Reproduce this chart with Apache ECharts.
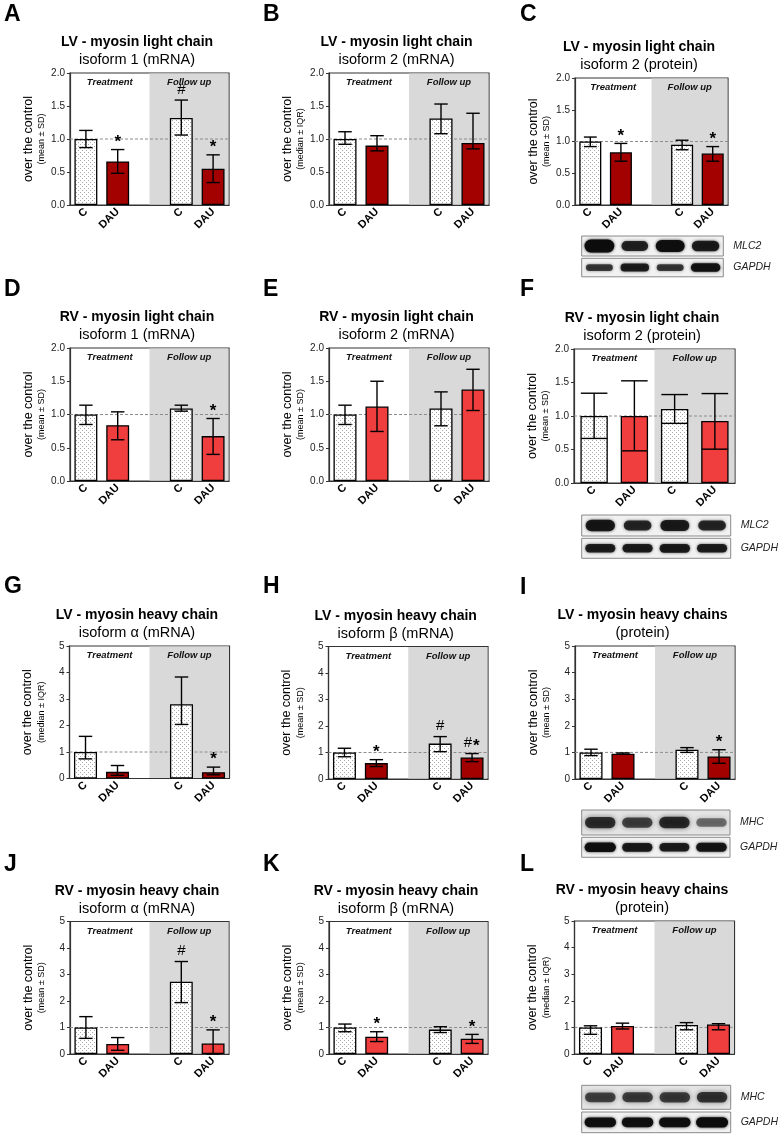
<!DOCTYPE html>
<html><head><meta charset="utf-8">
<script src="https://cdn.jsdelivr.net/npm/echarts@6/dist/echarts.min.js"></script>
<style>html,body{margin:0;padding:0;background:#fff}#c{width:784px;height:1137px}</style>
</head><body><div id="c"></div>
<script>
// ---------- DATA ----------
const categories = ['C', 'DAU', '', 'C', 'DAU'];
const categoriesF = ['C', 'DAU', 'C', 'DAU'];
const panelIds = ['A','B','C','D','E','F','G','H','I','J','K','L'];
const panelTitles = ['LV - myosin light chain','LV - myosin light chain','LV - myosin light chain',
  'RV - myosin light chain','RV - myosin light chain','RV - myosin light chain',
  'LV - myosin heavy chain','LV - myosin heavy chain','LV - myosin heavy chains',
  'RV - myosin heavy chain','RV - myosin heavy chain','RV - myosin heavy chains'];
const panelSubtitles = ['isoform 1 (mRNA)','isoform 2 (mRNA)','isoform 2 (protein)',
  'isoform 1 (mRNA)','isoform 2 (mRNA)','isoform 2 (protein)',
  'isoform α (mRNA)','isoform β (mRNA)','(protein)',
  'isoform α (mRNA)','isoform β (mRNA)','(protein)'];
const panelNotes = ['(mean ± SD)','(median ± IQR)','(mean ± SD)',
  '(mean ± SD)','(mean ± SD)','(mean ± SD)',
  '(median ± IQR)','(mean ± SD)','(mean ± SD)',
  '(mean ± SD)','(mean ± SD)','(median ± IQR)'];
const sectionLabels = ['Treatment', 'Follow up'];
const yTicksLight = [0, 0.5, 1.0, 1.5, 2.0];
const yTicksHeavy = [0, 1, 2, 3, 4, 5];

const A_mean = [1.00, 0.66, null, 1.32, 0.55];
const A_low  = [0.87, 0.48, null, 1.06, 0.34];
const A_high = [1.13, 0.84, null, 1.59, 0.76];
const A_marks = ['', '*', '', '#', '*'];

const B_mean = [1.00, 0.90, null, 1.31, 0.94];
const B_low  = [0.92, 0.82, null, 1.08, 0.85];
const B_high = [1.11, 1.05, null, 1.53, 1.39];
const B_marks = ['', '', '', '', ''];

const C_mean = [1.00, 0.83, null, 0.95, 0.81];
const C_low  = [0.92, 0.69, null, 0.87, 0.69];
const C_high = [1.07, 0.97, null, 1.02, 0.92];
const C_marks = ['', '*', '', '', '*'];

const D_mean = [1.00, 0.84, null, 1.09, 0.675];
const D_low  = [0.85, 0.62, null, 1.05, 0.40];
const D_high = [1.14, 1.04, null, 1.14, 0.94];
const D_marks = ['', '', '', '', '*'];

const E_mean = [1.00, 1.12, null, 1.09, 1.375];
const E_low  = [0.85, 0.745, null, 0.83, 1.06];
const E_high = [1.14, 1.50, null, 1.34, 1.68];
const E_marks = ['', '', '', '', ''];

const F_mean = [1.00, 1.00, 1.105, 0.925];
const F_low  = [0.665, 0.48, 0.89, 0.505];
const F_high = [1.34, 1.525, 1.32, 1.335];
const F_marks = ['', '', '', ''];

const G_mean = [1.00, 0.25, null, 2.80, 0.24];
const G_low  = [0.74, 0.12, null, 2.04, 0.14];
const G_high = [1.59, 0.49, null, 3.83, 0.43];
const G_marks = ['', '', '', '', '*'];

const H_mean = [1.00, 0.60, null, 1.335, 0.81];
const H_low  = [0.84, 0.47, null, 1.03, 0.655];
const H_high = [1.16, 0.73, null, 1.60, 0.96];
const H_marks = ['', '*', '', '#', '#*'];

const I_mean = [1.00, 0.95, null, 1.10, 0.85];
const I_low  = [0.88, 0.93, null, 1.00, 0.59];
const I_high = [1.12, 0.98, null, 1.18, 1.10];
const I_marks = ['', '', '', '', '*'];

const J_mean = [1.00, 0.38, null, 2.73, 0.40];
const J_low  = [0.59, 0.14, null, 1.94, 0.00];
const J_high = [1.41, 0.62, null, 3.49, 0.91];
const J_marks = ['', '', '', '#', '*'];

const K_mean = [1.00, 0.655, null, 0.92, 0.58];
const K_low  = [0.84, 0.47, null, 0.81, 0.40];
const K_high = [1.13, 0.84, null, 1.03, 0.74];
const K_marks = ['', '*', '', '', '*'];

const L_mean = [1.00, 1.05, null, 1.09, 1.11];
const L_low  = [0.74, 0.94, null, 0.91, 0.91];
const L_high = [1.06, 1.16, null, 1.18, 1.14];
const L_marks = ['', '', '', '', ''];

// western blot band densities (0..1), four lanes
const blotLabels = ['MLC2', 'GAPDH', 'MHC'];
const C_MLC2  = [1.00, 0.60, 0.90, 0.70];
const C_GAPDH = [0.45, 0.70, 0.45, 0.85];
const F_MLC2  = [0.75, 0.55, 0.70, 0.55];
const F_GAPDH = [0.70, 0.72, 0.75, 0.72];
const I_MHC   = [0.85, 0.65, 0.90, 0.30];
const I_GAPDH = [0.90, 0.75, 0.70, 0.80];
const L_MHC   = [0.65, 0.70, 0.72, 0.80];
const L_GAPDH = [0.90, 0.90, 0.90, 1.00];

// ---------- LAYOUT / STYLE ----------
const FONT = "'Liberation Sans', Arial, sans-serif";
const LV_RED = '#a30000', RV_RED = '#f03e3e', SHADE = '#d9d9d9';
const gridRects = {
  A:[70,73,159,132], B:[329,73,160,132], C:[575,78,153,127],
  D:[70,348,159,133], E:[329,348,160,133], F:[574,349,161,134],
  G:[69.5,646,160,132.5], H:[328.5,646.5,159.5,132.5], I:[575,646,160,133],
  J:[70,921.5,159,132.5], K:[329,921.5,159,132.5], L:[574.5,921,160,133]
};
const letterPos = {A:[4,15],B:[263,15],C:[520,15],D:[4,290],E:[263,290],F:[520,290],
  G:[4,587],H:[263,587],I:[520,588],J:[4,865],K:[263,865],L:[520,865]};
const blotBoxes = {
  C: [[581.7,236,141.6,20],[581.7,258.3,141.6,18.5]],
  F: [[581.7,515,149,21],[581.7,538.3,149,20]],
  I: [[581.7,810,148.3,25],[581.7,837.3,148.3,20]],
  L: [[581.7,1085.3,149,24],[581.7,1112,149,20.7]]
};
const blotRows = {
  C: [[blotLabels[0], C_MLC2, 'sharp'], [blotLabels[1], C_GAPDH, 'thin']],
  F: [[blotLabels[0], F_MLC2, 'sharp'], [blotLabels[1], F_GAPDH, 'thin']],
  I: [[blotLabels[2], I_MHC, 'diffuse'], [blotLabels[1], I_GAPDH, 'thin']],
  L: [[blotLabels[2], L_MHC, 'diffuse'], [blotLabels[1], L_GAPDH, 'thin']]
};

const data = {A:[A_mean,A_low,A_high,A_marks],B:[B_mean,B_low,B_high,B_marks],C:[C_mean,C_low,C_high,C_marks],
  D:[D_mean,D_low,D_high,D_marks],E:[E_mean,E_low,E_high,E_marks],F:[F_mean,F_low,F_high,F_marks],
  G:[G_mean,G_low,G_high,G_marks],H:[H_mean,H_low,H_high,H_marks],I:[I_mean,I_low,I_high,I_marks],
  J:[J_mean,J_low,J_high,J_marks],K:[K_mean,K_low,K_high,K_marks],L:[L_mean,L_low,L_high,L_marks]};
const isLV = {A:1,B:1,C:1,G:1,H:1,I:1};

// stipple pattern for control bars
const pc = document.createElement('canvas'); pc.width = 4; pc.height = 4;
const pctx = pc.getContext('2d');
pctx.fillStyle = '#ffffff'; pctx.fillRect(0,0,4,4);
pctx.fillStyle = '#a8a8a8'; pctx.fillRect(0,0,1,1); pctx.fillRect(2,2,1,1);
const stipple = {image: pc, repeat: 'repeat'};

function txt(x, y, text, font, opts, fill) {
  return Object.assign({type:'text', x:x, y:y, silent:true,
    style:{text:text, font:font, fill:fill || '#000', textAlign:'center', textVerticalAlign:'middle', align:'center', verticalAlign:'middle'}}, opts||{});
}

const grids = [], xAxes = [], yAxes = [], series = [], graphics = [];
panelIds.forEach((id, i) => {
  const r = gridRects[id];
  const cats = id === 'F' ? categoriesF : categories;
  const [mean, low, high, marks] = data[id];
  const heavy = i >= 6;
  const ticks = heavy ? yTicksHeavy : yTicksLight;
  const color = isLV[id] ? LV_RED : RV_RED;
  const capFrac = id === 'F' ? 0.66 : 0.42;
  grids.push({left:r[0], top:r[1], width:r[2], height:r[3], show:true, borderColor:'#333', borderWidth:1.2, backgroundColor:'transparent'});
  xAxes.push({type:'category', gridIndex:i, data:cats,
    axisLine:{show:true, lineStyle:{color:'#333', width:1.2}}, axisTick:{show:false},
    axisLabel:{interval:0, rotate:45, margin:5, fontFamily:FONT, fontWeight:'bold', fontSize:11, color:'#000'}});
  yAxes.push({type:'value', gridIndex:i, min:ticks[0], max:ticks[ticks.length-1], interval:ticks[1]-ticks[0],
    axisLine:{show:true, lineStyle:{color:'#333', width:1.2}}, axisTick:{show:true, length:3, lineStyle:{color:'#333'}},
    splitLine:{show:false},
    axisLabel:{margin:5, fontFamily:FONT, fontSize:10, color:'#222', formatter: v => heavy ? String(Math.round(v)) : v.toFixed(1)}});
  // shaded follow-up area, reference line, section labels
  series.push({type:'custom', xAxisIndex:i, yAxisIndex:i, z:1, silent:true, data:[[0,0]],
    renderItem:(params, api) => {
      const cs = params.coordSys;
      const sx = cats.length === 5 ? api.coord([2,0])[0] : (api.coord([1,0])[0] + api.coord([2,0])[0]) / 2;
      const y1 = api.coord([0,1])[1];
      const fnt = 'italic bold 9.5px ' + FONT;
      return {type:'group', children:[
        {type:'rect', shape:{x:sx, y:cs.y+0.6, width:cs.x+cs.width-0.6-sx, height:cs.height-1.2}, style:{fill:SHADE}},
        {type:'line', shape:{x1:cs.x, y1:y1, x2:cs.x+cs.width, y2:y1}, style:{stroke:'#8c8c8c', lineWidth:1, lineDash:[3,2]}},
        txt((cs.x+sx)/2, cs.y+9.5, sectionLabels[0], fnt, null, '#111'),
        txt((sx+cs.x+cs.width)/2, cs.y+9.5, sectionLabels[1], fnt, null, '#111')
      ]};
    }});
  series.push({type:'bar', xAxisIndex:i, yAxisIndex:i, z:2, barWidth:id === 'F' ? '68%' : '72%', silent:true,
    data: mean.map((v,k) => v == null ? '-' : {value:v, itemStyle: cats[k] === 'C'
      ? {color:stipple, borderColor:'#000', borderWidth:1.3}
      : {color:color, borderColor:'#000', borderWidth:1.3}})});
  const eb = [];
  mean.forEach((v,k) => { if (v != null) eb.push([k, low[k], high[k]]); });
  series.push({type:'custom', xAxisIndex:i, yAxisIndex:i, z:3, silent:true, encode:{x:0, y:[1,2]}, data:eb,
    renderItem:(params, api) => {
      const k = api.value(0);
      const top = api.coord([k, api.value(2)]);
      const bot = api.coord([k, api.value(1)]);
      const half = api.size([1,0])[0] * capFrac / 2;
      const st = {stroke:'#000', lineWidth:1.4};
      const ch = [
        {type:'line', shape:{x1:top[0], y1:top[1], x2:bot[0], y2:bot[1]}, style:st},
        {type:'line', shape:{x1:top[0]-half, y1:top[1], x2:top[0]+half, y2:top[1]}, style:st},
        {type:'line', shape:{x1:bot[0]-half, y1:bot[1], x2:bot[0]+half, y2:bot[1]}, style:st}
      ];
      const mk = marks[k] || '';
      const chars = mk.split('');
      chars.forEach((c, n) => {
        const dx = (n - (chars.length - 1) / 2) * 8.5;
        const isStar = c === '*';
        ch.push({type:'text', x:top[0] + dx, y: isStar ? top[1] + 1 : top[1] - 3,
          style:{text:c, font:(isStar ? 'bold 17px ' : '15px ') + FONT, fill:'#000',
          textAlign:'center', textVerticalAlign:'bottom', align:'center', verticalAlign:'bottom'}});
      });
      return {type:'group', children:ch};
    }});
  // texts
  const cx = r[0] + r[2]/2 - 12.5;
  const lp = letterPos[id];
  graphics.push({type:'text', x:lp[0], y:lp[1], silent:true, style:{text:id, font:'bold 23px ' + FONT, fill:'#000',
    textAlign:'left', textVerticalAlign:'middle', align:'left', verticalAlign:'middle'}});
  graphics.push(txt(cx, r[1]-30.5, panelTitles[i], 'bold 14px ' + FONT));
  graphics.push(txt(cx, r[1]-13, panelSubtitles[i], '14.5px ' + FONT));
  const cy = r[1] + r[3]/2;
  graphics.push(txt(r[0]-41.5, cy, 'over the control', '12.5px ' + FONT, {rotation:Math.PI/2}));
  graphics.push(txt(r[0]-28, cy, panelNotes[i], '9px ' + FONT, {rotation:Math.PI/2}));
  // western blots
  if (blotBoxes[id]) {
    blotBoxes[id].forEach((b, j) => {
      const [label, dens, kind] = blotRows[id][j];
      graphics.push({type:'rect', silent:true, shape:{x:b[0], y:b[1], width:b[2], height:b[3]},
        style:{fill: kind === 'diffuse' ? '#e4e4e4' : '#f1f1f1', stroke:'#8a8a8a', lineWidth:1}});
      const lw = b[2] / 4;
      dens.forEach((d, n) => {
        let w, h, a, blur;
        if (kind === 'sharp') { w = lw*(0.62+0.22*d); h = b[3]*(0.28+0.36*d); a = 0.55+0.45*d; blur = 3; }
        else if (kind === 'thin') { w = lw*(0.68+0.18*d); h = b[3]*(0.25+0.25*d); a = 0.5+0.5*d; blur = 3; }
        else { w = lw*0.82; h = b[3]*(0.28+0.2*d); a = 0.35+0.5*d; blur = 5; }
        const bx = b[0] + (n+0.5)*lw - w/2, by = b[1] + b[3]/2 - h/2;
        graphics.push({type:'rect', silent:true, shape:{x:bx, y:by, width:w, height:h, r:h/2},
          style:{fill:'rgba(12,12,12,' + a.toFixed(2) + ')', shadowBlur:blur, shadowColor:'rgba(12,12,12,' + (a*0.9).toFixed(2) + ')'}});
      });
      graphics.push({type:'text', x:b[0]+b[2]+10, y:b[1]+b[3]/2, silent:true, style:{text:label, font:'italic 10.5px ' + FONT, fill:'#222',
        textAlign:'left', textVerticalAlign:'middle', align:'left', verticalAlign:'middle'}});
    });
  }
});

const chart = echarts.init(document.getElementById('c'), null, {renderer:'canvas'});
chart.setOption({animation:false, backgroundColor:'#fff', grid:grids, xAxis:xAxes, yAxis:yAxes, series:series, graphic:{elements:graphics}});
</script></body></html>
